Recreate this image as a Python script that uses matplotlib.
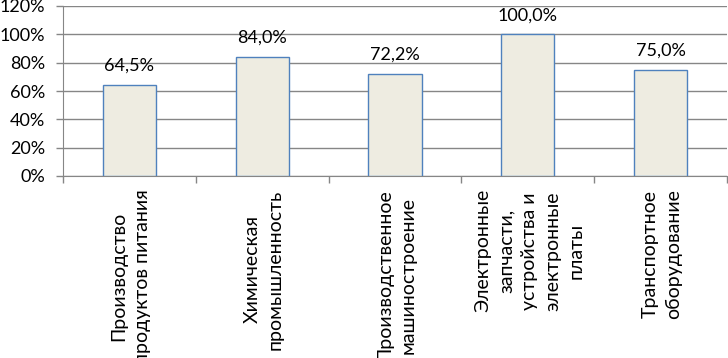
import matplotlib.pyplot as plt
from matplotlib.ticker import FuncFormatter

# Data
categories = [
    'Производство\nпродуктов питания',
    'Химическая\nпромышленность',
    'Производственное\nмашиностроение',
    'Электронные\nзапчасти,\nустройства и\nэлектронные\nплаты',
    'Транспортное\nоборудование',
]
values = [64.5, 84.0, 72.2, 100.0, 75.0]

plt.rcParams['font.family'] = ['Lato', 'DejaVu Sans']

fig = plt.figure(figsize=(7.28, 3.58), dpi=100)
ax = fig.add_axes([63 / 728, 1 - 176 / 358, 664 / 728, 170 / 358])

x = list(range(len(values)))
bars = ax.bar(x, values, width=0.4, color='#EEECE1', edgecolor='#4F81BD',
              linewidth=1.0, zorder=3)

# Value labels with comma decimals
for b, v in zip(bars, values):
    ax.annotate(f'{v:.1f}%'.replace('.', ','),
                (b.get_x() + b.get_width() / 2, v),
                xytext=(0, 8), textcoords='offset points',
                ha='center', va='bottom', fontsize=13, color='#000000')

ax.set_xlim(-0.5, len(values) - 0.5)
ax.set_ylim(0, 120)
ax.set_yticks(range(0, 121, 20))
ax.yaxis.set_major_formatter(FuncFormatter(lambda v, p: f'{v:.0f}%'))
ax.yaxis.grid(True, color='#868686', linewidth=1.0, zorder=0)
ax.set_axisbelow(True)

# Category labels: rotated, centred lines, hanging below the axis
ax.set_xticks([i - 0.5 for i in range(len(values) + 1)])
ax.set_xticklabels([])
ax.tick_params(axis='x', length=5, color='#868686', width=1)
for i, name in enumerate(categories):
    ax.annotate(name, (i, 0), xytext=(1, -9.5), textcoords='offset points',
                rotation=90, ha='center', va='top', multialignment='center',
                fontsize=14, linespacing=1.45, annotation_clip=False)

ax.tick_params(axis='y', length=5, color='#868686', width=1, labelsize=13, pad=8)

for s in ['top', 'right']:
    ax.spines[s].set_visible(False)
for s in ['left', 'bottom']:
    ax.spines[s].set_color('#868686')

fig.savefig('out.png', dpi=100)
